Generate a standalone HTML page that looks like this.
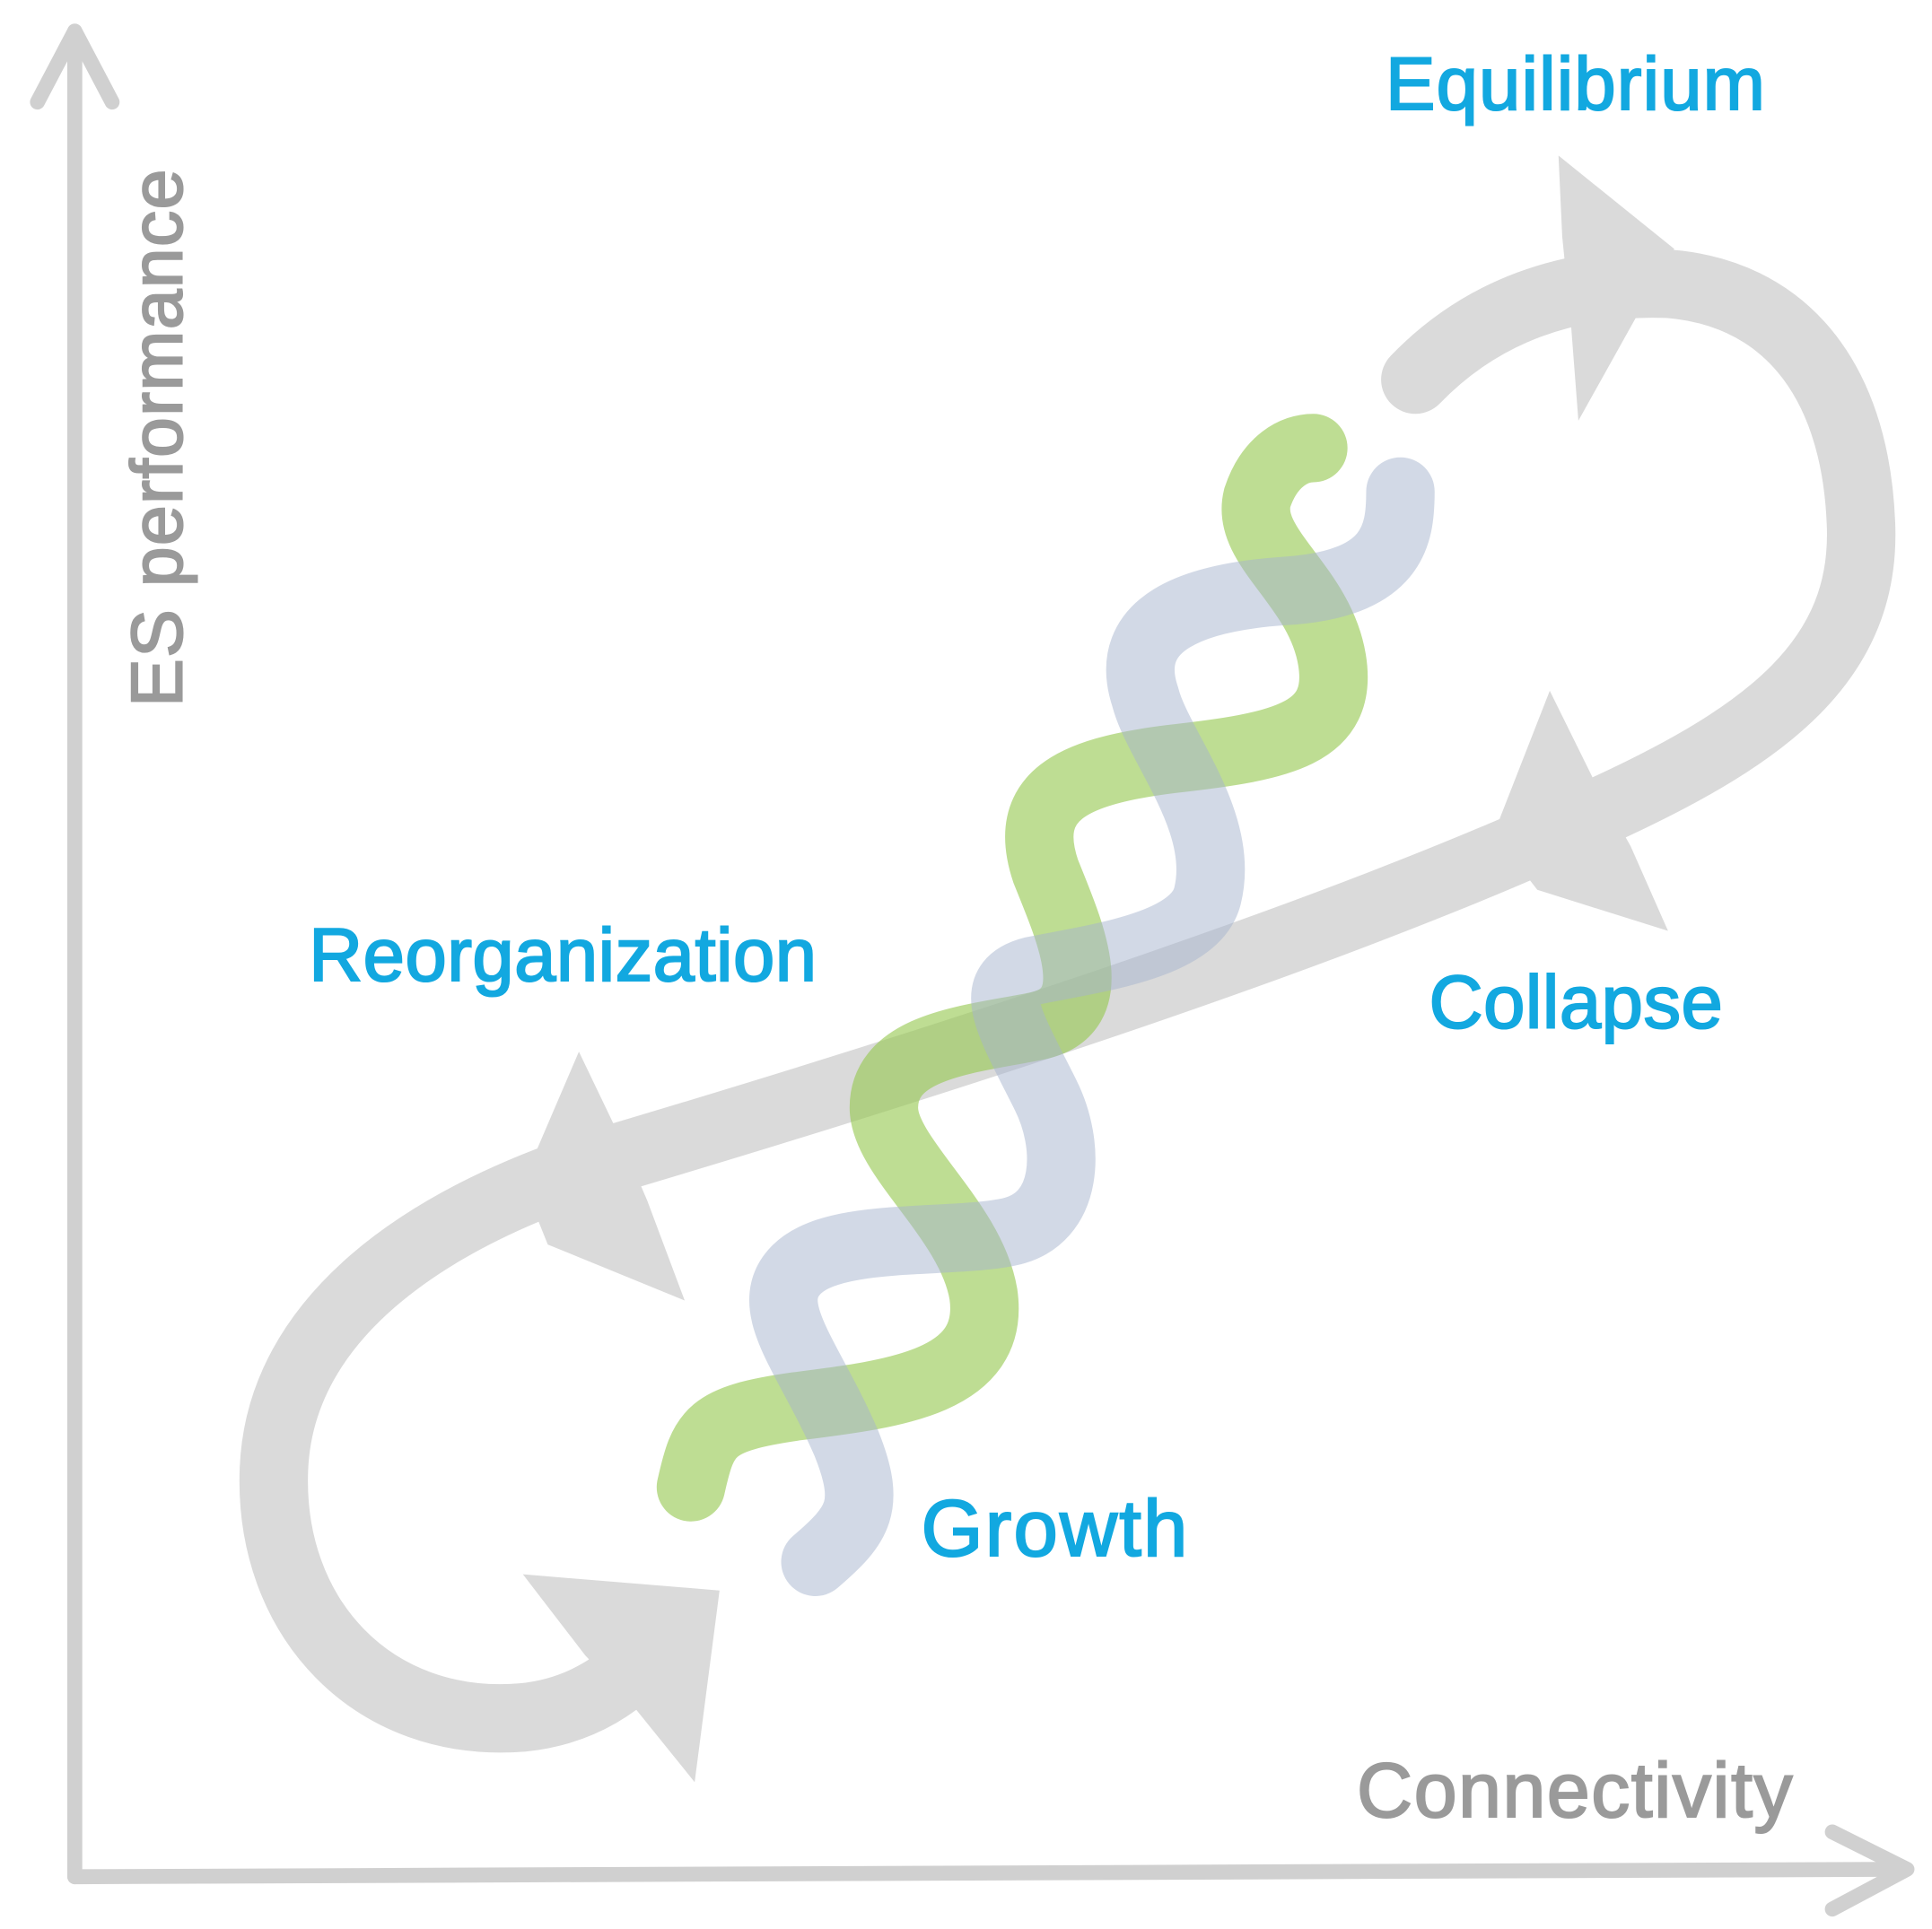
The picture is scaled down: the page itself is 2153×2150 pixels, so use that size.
<!DOCTYPE html>
<html><head><meta charset="utf-8"><style>html,body{margin:0;padding:0;background:#fff}svg{display:block}</style></head>
<body>
<svg width="2153" height="2150" viewBox="0 0 1552 1550" xmlns="http://www.w3.org/2000/svg">
<rect width="1552" height="1550" fill="#fff"/>
<g stroke="#d0d0d0" stroke-width="12" fill="none" stroke-linecap="round" stroke-linejoin="round">
<line x1="60" y1="25" x2="60" y2="1508"/>
<polyline points="30,82 60,25 90,82"/>
<line x1="60" y1="1508" x2="1530" y2="1502"/>
<polyline points="1472,1472 1532,1502 1472,1534"/>
</g>
<g fill="none" stroke="#dadada" stroke-width="55" stroke-linecap="round">
<path d="M1137,305 C1190,250 1260,225 1340,228 C1430,235 1490,300 1495,420 C1500,530 1420,590 1290,650 C1100,740 800,840 480,935 C340,980 225,1060 220,1180 C215,1300 300,1390 420,1380 C470,1375 500,1350 520,1330"/>
</g>
<g fill="#dadada">
<polygon points="1252,125 1345,200 1268,338 1262,260 1255,190"/>
<polygon points="1245,555 1282,630 1310,680 1340,748 1235,715 1200,670"/>
<polygon points="465,845 500,918 520,965 550,1045 440,1000 420,950"/>
<polygon points="420,1265 578,1278 558,1432 508,1370 470,1330"/>
</g>
<g fill="none" stroke-width="55" stroke-linecap="round">
<path stroke="rgba(150,200,80,0.62)" d="M555,1195 C565,1150 570,1140 640,1130 C720,1120 800,1110 790,1040 C780,980 710,930 710,890 C710,840 780,835 830,825 C890,815 860,750 840,700 C820,640 860,620 940,610 C1030,600 1080,590 1070,530 C1060,470 1000,440 1010,400 C1020,370 1040,360 1055,360"/>
<path stroke="rgba(165,180,205,0.5)" d="M655,1255 C690,1225 700,1210 680,1160 C650,1090 610,1050 640,1020 C670,990 760,1000 810,990 C860,980 860,920 840,880 C810,820 790,790 830,780 C880,770 960,760 970,720 C985,660 930,600 920,560 C900,500 960,480 1030,475 C1120,470 1125,430 1125,395"/>
</g>
<g font-family="Liberation Sans, sans-serif" fill="#12a8e0" stroke="#12a8e0" stroke-width="1.5" font-size="60">
<text x="1113" y="88" textLength="305">Equilibrium</text>
<text x="248" y="788" textLength="408">Reorganization</text>
<text x="1148" y="826" textLength="236">Collapse</text>
<text x="740" y="1250" font-size="64" textLength="214">Growth</text>
</g>
<text x="1090" y="1460" font-family="Liberation Sans, sans-serif" font-size="62" fill="#9a9a9a" stroke="#9a9a9a" stroke-width="1.5" textLength="350">Connectivity</text>
<text transform="translate(146,568) rotate(-90)" font-family="Liberation Sans, sans-serif" font-size="58" fill="#9a9a9a" stroke="#9a9a9a" stroke-width="1.5" textLength="432">ES performance</text>
</svg>
</body></html>
